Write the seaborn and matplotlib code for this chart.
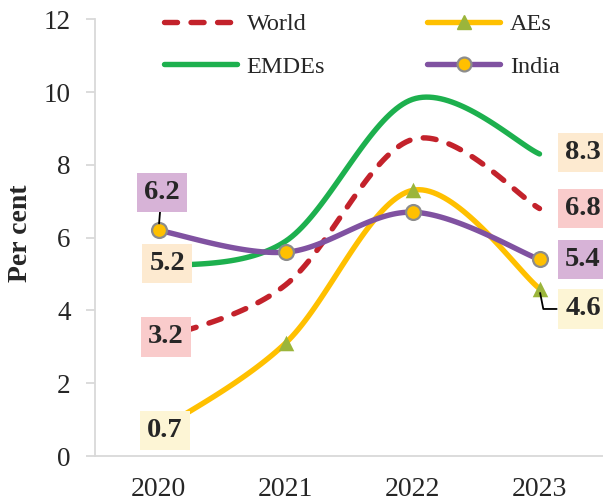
import seaborn as sns
import matplotlib.pyplot as plt
import numpy as np
from matplotlib.lines import Line2D

# Data
years = ['2020', '2021', '2022', '2023']
world = [3.2, 4.7, 8.7, 6.8]
aes = [0.7, 3.1, 7.3, 4.6]
emdes = [5.2, 5.9, 9.8, 8.3]
india = [6.2, 5.6, 6.7, 5.4]

c_world = '#C3222B'
c_aes = '#FFC000'
c_aes_mk = '#9BB53B'
c_emdes = '#1DB04E'
c_india = '#8052A1'
c_india_mk_edge = '#8C8C8C'

box_pink = '#F9CBCB'
box_orange = '#FDEAD0'
box_purple = '#D7B3D7'
box_yellow = '#FDF5D5'


def smooth(ys, n=40):
    # Excel-style smoothed line (Catmull-Rom as cubic Bezier)
    pts = np.column_stack([np.arange(len(ys)), ys]).astype(float)
    P = np.vstack([pts[0], pts, pts[-1]])
    t = np.linspace(0, 1, n)[:, None]
    out = []
    for i in range(len(pts) - 1):
        p0, p1, p2, p3 = P[i], P[i + 1], P[i + 2], P[i + 3]
        b1 = p1 + (p2 - p0) / 6
        b2 = p2 - (p3 - p1) / 6
        seg = (1 - t) ** 3 * p1 + 3 * (1 - t) ** 2 * t * b1 + 3 * (1 - t) * t ** 2 * b2 + t ** 3 * p2
        out.append(seg if i == 0 else seg[1:])
    return np.vstack(out)


sns.set_style('white')
plt.rcParams['font.family'] = ['Liberation Serif', 'DejaVu Serif']

fig = plt.figure(figsize=(6.03, 5.04), dpi=100)
ax = fig.add_axes([95 / 603, 48 / 504, 508 / 603, 436.7 / 504])

lw = 3.9
x = np.arange(len(years))

s = smooth(world)
sns.lineplot(x=s[:, 0], y=s[:, 1], sort=False, color=c_world, lw=lw, ax=ax,
             linestyle=(0, (2.4, 2.5)), dash_capstyle='round')
s = smooth(aes)
sns.lineplot(x=s[:, 0], y=s[:, 1], sort=False, color=c_aes, lw=lw, ax=ax, solid_capstyle='round')
sns.scatterplot(x=x, y=aes, marker='^', s=125, color=c_aes_mk, edgecolor=c_aes_mk, linewidth=0, ax=ax, zorder=3)
s = smooth(emdes)
sns.lineplot(x=s[:, 0], y=s[:, 1], sort=False, color=c_emdes, lw=lw, ax=ax, solid_capstyle='round')
s = smooth(india)
sns.lineplot(x=s[:, 0], y=s[:, 1], sort=False, color=c_india, lw=lw, ax=ax, solid_capstyle='round')
sns.scatterplot(x=x, y=india, marker='o', s=115, color=c_aes, edgecolor=c_india_mk_edge, linewidth=1.6, ax=ax, zorder=4)

# Data labels
lab_kw = dict(fontsize=20.5, fontweight='bold', ha='center', va='center', zorder=6)


def box(c):
    return dict(boxstyle='square,pad=0.25', fc=c, ec='none')


ax.text(0.07, emdes[0] + 0.08, f'{emdes[0]:.1f}', bbox=box(box_orange), **lab_kw)
ax.text(0.06, world[0] + 0.07, f'{world[0]:.1f}', bbox=box(box_pink), **lab_kw)
ax.text(0.05, aes[0], f'{aes[0]:.1f}', bbox=box(box_yellow), **lab_kw)
ax.annotate(f'{india[0]:.1f}', xy=(0, india[0]), xytext=(0.025, 7.25), bbox=box(box_purple),
            arrowprops=dict(arrowstyle='-', color='black', lw=1.3, shrinkA=0, shrinkB=5),
            **lab_kw)

ax.text(3.343, emdes[3] + 0.05, f'{emdes[3]:.1f}', bbox=box(box_orange), **lab_kw)
ax.text(3.343, world[3], f'{world[3]:.1f}', bbox=box(box_pink), **lab_kw)
ax.text(3.343, india[3], f'{india[3]:.1f}', bbox=box(box_purple), **lab_kw)
ax.text(3.343, aes[3] - 0.56, f'{aes[3]:.1f}', bbox=box(box_yellow), **lab_kw)
ax.plot([3.005, 3.03, 3.135], [aes[3] - 0.12, aes[3] - 0.56, aes[3] - 0.56], color='black', lw=1.3, zorder=5)

# Axes
ax.set_xlim(-0.5, 3.5)
ax.set_ylim(0, 12)
ax.set_yticks(range(0, 13, 2))
ax.set_xticks(x, labels=years)
ax.tick_params(axis='y', labelsize=19.5, length=6.5, width=1.3, color='#D9D9D9', pad=11, direction='out', left=True)
ax.tick_params(axis='x', labelsize=20, length=0, pad=15)
for side in ['top', 'right']:
    ax.spines[side].set_visible(False)
for side in ['left', 'bottom']:
    ax.spines[side].set_color('#D9D9D9')
    ax.spines[side].set_linewidth(1.3)
ax.set_xlabel('')
ax.set_ylabel('Per cent', fontsize=20, fontweight='bold')
ax.yaxis.set_label_coords(-0.122, 0.51)

# Legend
handles = [
    Line2D([], [], color=c_world, lw=lw, linestyle=(0, (2.4, 2.5)), dash_capstyle='round'),
    Line2D([], [], color=c_emdes, lw=lw, solid_capstyle='round'),
    Line2D([], [], color=c_aes, lw=lw, marker='^', markersize=10.5, markerfacecolor=c_aes_mk,
           markeredgecolor=c_aes_mk, solid_capstyle='round'),
    Line2D([], [], color=c_india, lw=lw, marker='o', markersize=10, markerfacecolor=c_aes,
           markeredgecolor=c_india_mk_edge, markeredgewidth=1.6, solid_capstyle='round'),
]
fig.legend(handles, ['World', 'EMDEs', 'AEs', 'India'], ncol=2, loc='upper left',
           bbox_to_anchor=(164 / 603, 1 - 13 / 504), frameon=False, fontsize=17.5,
           handlelength=3.0, handletextpad=0.4, columnspacing=4.2, labelspacing=0.85,
           borderpad=0, borderaxespad=0, numpoints=1)

fig.savefig('out.png', dpi=100)
